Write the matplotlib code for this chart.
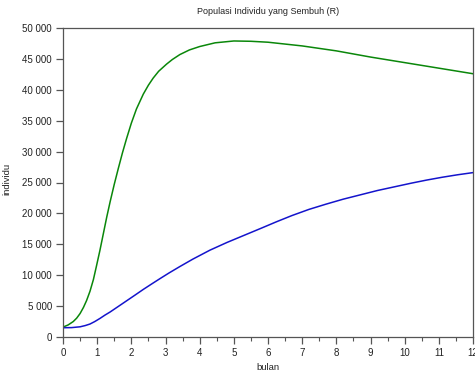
import matplotlib
matplotlib.use("Agg")
import matplotlib.pyplot as plt
from matplotlib.ticker import FuncFormatter, MultipleLocator

plt.rcParams["font.family"] = ["Liberation Sans", "DejaVu Sans"]

# months (bulan) and recovered population
t_green = [0, 0.15, 0.3, 0.4, 0.5, 0.6, 0.69, 0.79, 0.89, 0.98, 1.08, 1.18,
           1.28, 1.38, 1.5, 1.62, 1.74, 1.86, 2.0, 2.15, 2.35, 2.5, 2.64,
           2.8, 3.03, 3.2, 3.42, 3.7, 4.0, 4.45, 5.0, 5.5, 6.0, 7.0, 8.0,
           9.0, 10.0, 11.0, 12.0]
r_green = [1600, 1950, 2500, 3050, 3800, 4800, 5900, 7400, 9300, 11500,
           14000, 16700, 19400, 21900, 24700, 27300, 29800, 32100, 34600,
           36900, 39300, 40750, 41900, 43000, 44150, 44900, 45700, 46450,
           47000, 47600, 47900, 47850, 47700, 47100, 46300, 45300, 44400,
           43500, 42600]

t_blue = [0, 0.25, 0.5, 0.65, 0.79, 0.93, 1.08, 1.23, 1.38, 1.62, 1.86,
          2.1, 2.35, 2.6, 2.84, 3.1, 3.42, 3.8, 4.3, 4.8, 5.3, 5.8, 6.25,
          6.7, 7.2, 7.7, 8.2, 8.7, 9.2, 9.7, 10.2, 10.65, 11.1, 11.55, 12.0]
r_blue = [1500, 1520, 1650, 1850, 2100, 2500, 3000, 3550, 4050, 4950, 5850,
          6750, 7700, 8600, 9450, 10350, 11400, 12600, 14050, 15300, 16450,
          17600, 18650, 19650, 20650, 21500, 22300, 23000, 23700, 24300,
          24900, 25400, 25850, 26250, 26600]

title = "Populasi Individu yang Sembuh (R)"
xlabel = "bulan"
ylabel = "individu"

fig = plt.figure(figsize=(4.75, 3.74), dpi=100)
ax = fig.add_axes([63/475, 37/374, 410/475, 309/374])

ax.plot(t_green, r_green, color="#0a870a", lw=1.1)
ax.plot(t_blue, r_blue, color="#1414cc", lw=1.1)

ax.set_xlim(0, 12)
ax.set_ylim(0, 50000)
ax.xaxis.set_major_locator(MultipleLocator(1))
ax.xaxis.set_minor_locator(MultipleLocator(0.5))
ax.yaxis.set_major_locator(MultipleLocator(5000))
ax.yaxis.set_major_formatter(FuncFormatter(lambda v, p: f"{int(v):,}".replace(",", " ")))

for s in ax.spines.values():
    s.set_color("#555555")
    s.set_linewidth(0.9)
ax.tick_params(which="major", direction="out", length=5, width=0.9, color="#555555",
               labelsize=7, labelcolor="#222222", pad=3)
ax.tick_params(which="minor", direction="out", length=3, width=0.8, color="#555555")

ax.set_title(title, fontsize=6.5, color="#222222", pad=10)
ax.set_xlabel(xlabel, fontsize=6.8, color="#222222")
ax.set_ylabel(ylabel, fontsize=6.8, color="#222222")
ax.xaxis.set_label_coords(0.5, -0.084)
ax.yaxis.set_label_coords(-0.125, 0.51)

fig.savefig("out.png", dpi=100)
